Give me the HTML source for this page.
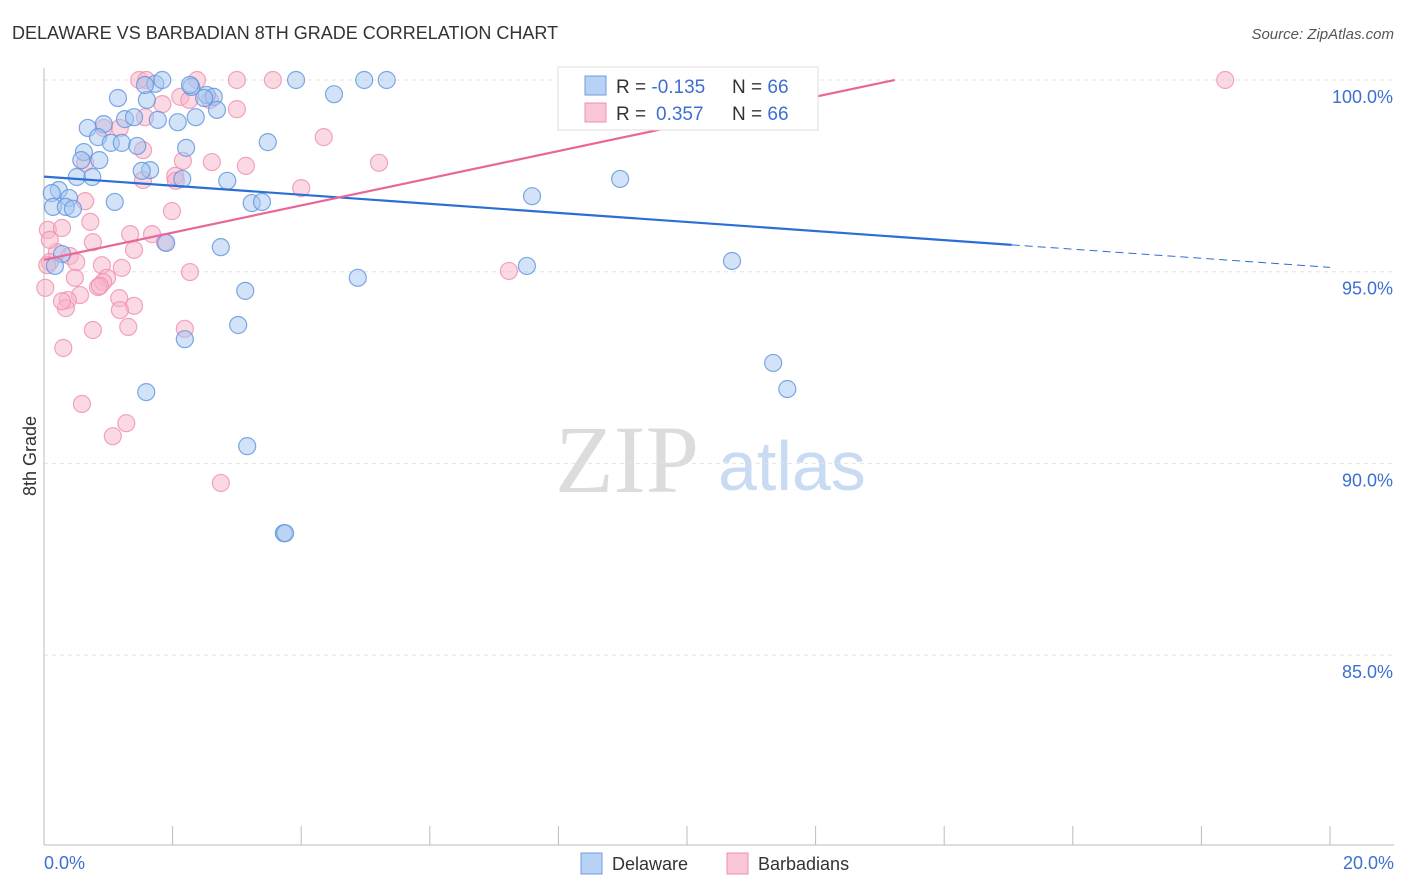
<!DOCTYPE html>
<html><head><meta charset="utf-8"><style>
body{margin:0;background:#fff;font-family:"Liberation Sans",sans-serif}
svg{display:block}
</style></head><body>
<svg id="chart" width="1406" height="892" xmlns="http://www.w3.org/2000/svg" font-family="Liberation Sans, sans-serif">
<text x="12" y="39" font-size="18" fill="#333">DELAWARE VS BARBADIAN 8TH GRADE CORRELATION CHART</text>
<text x="1394" y="39" font-size="15" fill="#555" font-style="italic" text-anchor="end">Source: ZipAtlas.com</text>
<g>
<text x="555" y="492" font-size="96" font-family="Liberation Serif, serif" fill="#dcdcdc">ZIP</text>
<text x="718" y="490" font-size="70" fill="#c9daf3">atlas</text>
</g>
<g id="grid"></g>
<g id="axes"></g>
<g id="pts"></g>
<g id="trends"></g>
<text x="36" y="456" font-size="18" fill="#333" transform="rotate(-90 36 456)" text-anchor="middle">8th Grade</text>
<text x="44" y="869" font-size="18" fill="#3d6fd1">0.0%</text>
<text x="1394" y="869" font-size="18" fill="#3d6fd1" text-anchor="end">20.0%</text>
<g>
<rect x="558" y="67" width="260" height="63" fill="#fff" stroke="#ddd"/>
<rect x="585" y="76" width="21" height="19" fill="#b8d2f5" stroke="#6c9de0"/>
<rect x="585" y="103" width="21" height="19" fill="#f9c6d5" stroke="#ef8fb0"/>
<text x="616" y="93" font-size="19" fill="#333">R = <tspan fill="#3d6fd1">-0.135</tspan><tspan x="732">N = </tspan><tspan fill="#3d6fd1">66</tspan></text>
<text x="616" y="120" font-size="19" fill="#333">R = <tspan fill="#3d6fd1" x="656">0.357</tspan><tspan x="732">N = </tspan><tspan fill="#3d6fd1">66</tspan></text>
</g>
<g>
<rect x="581" y="853" width="21" height="21" fill="#b8d2f5" stroke="#6c9de0"/>
<text x="612" y="870" font-size="18" fill="#333">Delaware</text>
</g>
<g>
<rect x="727" y="853" width="21" height="21" fill="#f9c6d5" stroke="#ef8fb0"/>
<text x="758" y="870" font-size="18" fill="#333">Barbadians</text>
</g>
</svg>
<script>
const yTicks=[100,95,90,85];
const yTickLabels=["100.0%","95.0%","90.0%","85.0%"];
const xTicks=[0,2,4,6,8,10,12,14,16,18,20];
const delX=[1.73,1.84,3.92,4.98,5.33,9.89,11.14,1.15,1.60,2.29,2.53,2.64,4.51,2.69,2.36,2.08,1.77,1.26,0.93,0.68,0.84,1.04,1.21,1.45,2.21,3.48,0.62,0.58,0.86,1.65,1.52,0.75,0.51,2.15,2.85,0.23,0.12,0.39,0.14,0.34,0.45,1.10,3.23,3.39,7.59,8.96,1.90,2.75,0.28,0.17,7.51,10.70,4.88,3.13,3.02,2.19,11.34,11.56,1.59,3.16,3.73,3.75,2.49,1.40,1.57,2.27];
const delY=[99.90,100,100,100,100,100,100,99.53,99.48,99.82,99.61,99.56,99.63,99.22,99.03,98.90,98.96,98.98,98.85,98.75,98.51,98.36,98.36,98.28,98.23,98.38,98.12,97.91,97.91,97.65,97.63,97.47,97.47,97.42,97.37,97.13,97.05,96.92,96.69,96.69,96.64,96.82,96.79,96.82,96.97,97.42,95.75,95.64,95.46,95.15,95.15,95.28,94.84,94.50,93.61,93.24,92.62,91.94,91.86,90.45,88.18,88.18,99.53,99.03,99.87,99.87];
const barX=[1.48,1.59,2.38,3.00,3.56,18.37,2.12,2.26,1.84,3.00,1.57,1.18,4.35,0.64,2.16,2.61,3.14,5.21,2.04,2.05,4.00,1.99,0.64,0.72,0.06,0.28,1.34,1.68,0.76,1.88,1.40,0.20,0.40,0.09,0.50,0.90,1.21,2.27,7.23,0.48,0.98,0.92,0.84,0.02,0.56,0.37,1.17,1.40,0.34,0.76,1.31,2.19,0.30,0.59,1.28,1.07,2.75,0.05,1.54,0.93,1.54,2.58,0.87,0.09,1.18,0.28];
const barY=[100,100,100,100,100,100,99.56,99.48,99.37,99.24,99.03,98.75,98.51,97.84,97.89,97.86,97.76,97.84,97.50,97.37,97.18,96.58,96.84,96.30,96.09,96.14,95.98,95.98,95.77,95.77,95.57,95.51,95.41,95.25,95.25,95.17,95.10,94.99,95.02,94.84,94.84,94.73,94.60,94.58,94.39,94.26,94.31,94.11,94.05,93.48,93.56,93.51,93.01,91.55,91.05,90.71,89.49,95.17,97.39,98.75,98.17,99.48,94.63,95.83,94.00,94.23];
const delTrend=[97.48,-0.1183,15.05];
const barTrend=[95.31,0.3545];
const NS="http://www.w3.org/2000/svg";
const X=v=>44+v/20*1286, Y=v=>80+(100-v)/5*191.7;
function mk(p,t,a){const e=document.createElementNS(NS,t);for(const k in a)e.setAttribute(k,a[k]);document.getElementById(p).appendChild(e);return e;}
yTicks.forEach((t,i)=>{
 const l=mk('grid','line',{x1:44,x2:1394,y1:Y(t),y2:Y(t),stroke:'#e2e2e2','stroke-dasharray':'4,4'});
 
 
 const tx=mk('grid','text',{x:1393,y:Y(t)+23,'font-size':18,fill:'#3d6fd1','text-anchor':'end'});
 tx.textContent=yTickLabels[i];
 
 
});
const ax=mk('axes','line',{x1:44,x2:44,y1:68,y2:845,stroke:'#bbb'});


const bx=mk('axes','line',{x1:44,x2:1394,y1:845,y2:845,stroke:'#bbb'});


xTicks.forEach(t=>{
 const l=mk('axes','line',{x1:X(t),x2:X(t),y1:826,y2:845,stroke:'#bbb'});
 
 
});
function pts(xs,ys,fill,stroke,name){xs.forEach((x,i)=>{
 const c=mk('pts','circle',{cx:X(x),cy:Y(ys[i]),r:8.5,fill:fill,'fill-opacity':0.5,stroke:stroke,'stroke-opacity':0.8,'stroke-width':1.2});
 
 
});}
pts(barX,barY,'#f7b3c8','#ef8fb0','barbadians-point');
pts(delX,delY,'#a6c6f0','#5f93dd','delaware-point');
const f=x=>delTrend[0]+delTrend[1]*x;
const d1=mk('trends','line',{x1:X(0),y1:Y(f(0)),x2:X(delTrend[2]),y2:Y(f(delTrend[2])),stroke:'#2a6fd6','stroke-width':2.2});


const d2=mk('trends','line',{x1:X(delTrend[2]),y1:Y(f(delTrend[2])),x2:X(20),y2:Y(f(20)),stroke:'#2a6fd6','stroke-width':1,'stroke-dasharray':'8,5'});


const xe=(100-barTrend[0])/barTrend[1];
const p1=mk('trends','line',{x1:X(0),y1:Y(barTrend[0]),x2:X(xe),y2:Y(100),stroke:'#e8679a','stroke-width':2.2});


</script>
</body></html>
